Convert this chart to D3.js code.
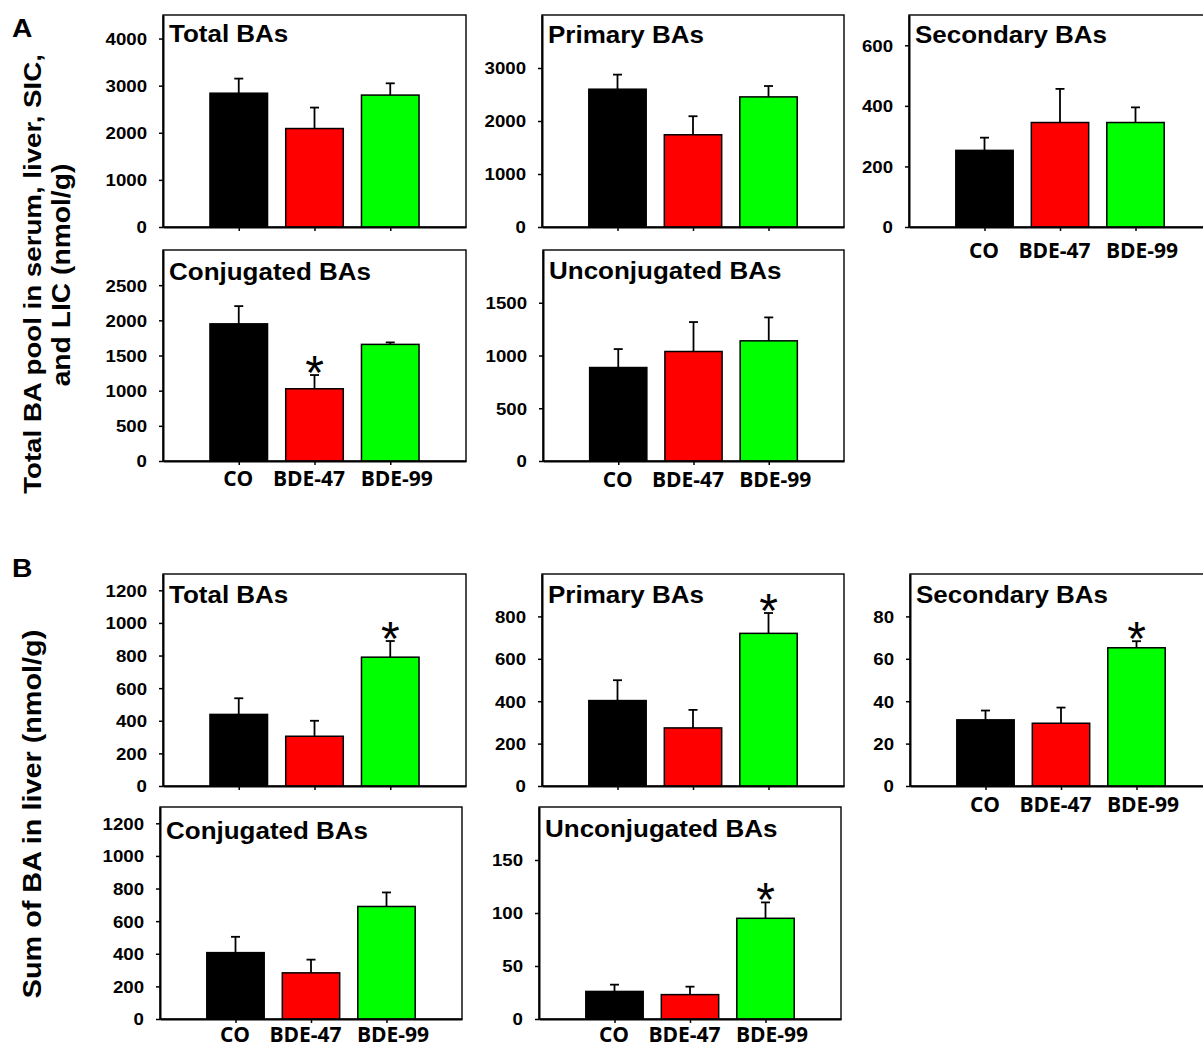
<!DOCTYPE html>
<html>
<head>
<meta charset="utf-8">
<script src="https://cdn.jsdelivr.net/npm/d3@7"></script>
<style>
  body { margin: 0; background: #fff; }
  svg { display: block; }
</style>
</head>
<body>
<svg id="chart" width="1203" height="1047"></svg>
<script>
// groups on the x axis
const groups = ["CO", "BDE-47", "BDE-99"];
const barColors = ["#000000", "#ff0000", "#00ff00"];

// A: total BA pool in serum, liver, SIC and LIC (nmol/g)
const aTotalMean = [2840, 2090, 2800];
const aTotalSem = [310, 445, 250];
const aPrimaryMean = [2600, 1740, 2455];
const aPrimarySem = [275, 350, 205];
const aSecondaryMean = [253, 345, 345];
const aSecondarySem = [42, 111, 50];
const aConjMean = [1950, 1027, 1658];
const aConjSem = [252, 195, 28];
const aUnconjMean = [886, 1038, 1139];
const aUnconjSem = [175, 279, 222];

// B: sum of BA in liver (nmol/g)
const bTotalMean = [439, 305, 790];
const bTotalSem = [99, 95, 99];
const bPrimaryMean = [403, 274, 720];
const bPrimarySem = [96, 85, 96];
const bSecondaryMean = [31.2, 29.6, 65.2];
const bSecondarySem = [4.4, 7.4, 3.1];
const bConjMean = [407, 283, 690];
const bConjSem = [97, 81, 86];
const bUnconjMean = [26, 23, 95];
const bUnconjSem = [6.4, 7.5, 15];

// y tick labels
const ticksA1 = [0, 1000, 2000, 3000, 4000];
const ticksA2 = [0, 1000, 2000, 3000];
const ticksA3 = [0, 200, 400, 600];
const ticksA4 = [0, 500, 1000, 1500, 2000, 2500];
const ticksA5 = [0, 500, 1000, 1500];
const ticksB1 = [0, 200, 400, 600, 800, 1000, 1200];
const ticksB2 = [0, 200, 400, 600, 800];
const ticksB3 = [0, 20, 40, 60, 80];
const ticksB4 = [0, 200, 400, 600, 800, 1000, 1200];
const ticksB5 = [0, 50, 100, 150];

const panels = [
  { title: "Total BAs", mean: aTotalMean, sem: aTotalSem, ticks: ticksA1, max: 4500, star: null,
    box: [163, 466, 15, 227], titleDy: 27, labels: false },
  { title: "Primary BAs", mean: aPrimaryMean, sem: aPrimarySem, ticks: ticksA2, max: 4000, star: null,
    box: [542, 844, 15, 227], titleDy: 28, labels: false },
  { title: "Secondary BAs", mean: aSecondaryMean, sem: aSecondarySem, ticks: ticksA3, max: 700, star: null,
    box: [909, 1211, 15, 227], titleDy: 28, labels: true, labelDy: 31 },
  { title: "Conjugated BAs", mean: aConjMean, sem: aConjSem, ticks: ticksA4, max: 3000, star: 1,
    box: [163, 466, 250, 461], titleDy: 30, labels: true, labelDy: 25 },
  { title: "Unconjugated BAs", mean: aUnconjMean, sem: aUnconjSem, ticks: ticksA5, max: 2000, star: null,
    box: [543, 844, 250, 461], titleDy: 29, labels: true, labelDy: 26 },
  { title: "Total BAs", mean: bTotalMean, sem: bTotalSem, ticks: ticksB1, max: 1300, star: 2,
    box: [163, 466, 574, 786], titleDy: 29, labels: false },
  { title: "Primary BAs", mean: bPrimaryMean, sem: bPrimarySem, ticks: ticksB2, max: 1000, star: 2,
    box: [542, 844, 574, 786], titleDy: 29, labels: false },
  { title: "Secondary BAs", mean: bSecondaryMean, sem: bSecondarySem, ticks: ticksB3, max: 100, star: 2,
    box: [910, 1212, 574, 786], titleDy: 29, labels: true, labelDy: 26 },
  { title: "Conjugated BAs", mean: bConjMean, sem: bConjSem, ticks: ticksB4, max: 1300, star: null,
    box: [160, 462, 807, 1019], titleDy: 32, labels: true, labelDy: 23 },
  { title: "Unconjugated BAs", mean: bUnconjMean, sem: bUnconjSem, ticks: ticksB5, max: 200, star: 2,
    box: [539, 841, 807, 1019], titleDy: 30, labels: true, labelDy: 23 },
];

// the group labels were typed as one line, so they sit a little off the ticks
const labelShift = [-1, -6, 6];

const svg = d3.select("#chart");
const arial = "'Liberation Sans', Arial, sans-serif";
const stretch = 1.13; // the original type is a bit wider than Arial

function wideText(g, x, y, str, size, anchor, rotate) {
  return g.append("text")
    .attr("transform", `translate(${x},${y})${rotate ? " rotate(-90)" : ""} scale(${stretch},1)`)
    .attr("text-anchor", anchor)
    .attr("font-family", arial)
    .attr("font-weight", "bold")
    .attr("font-size", size)
    .attr("fill", "#000")
    .text(str);
}

function drawPanel(p) {
  const [x0, x1, y0, y1] = p.box;
  const g = svg.append("g");

  const x = d3.scalePoint().domain(groups).range([x0, x1]).padding(1);
  const y = d3.scaleLinear().domain([0, p.max]).range([y1, y0]);
  const barW = x.step() * 0.76;

  // frame
  g.append("rect")
    .attr("x", x0).attr("y", y0)
    .attr("width", x1 - x0).attr("height", y1 - y0)
    .attr("fill", "none").attr("stroke", "#000").attr("stroke-width", 1.4);

  const rows = groups.map((k, i) => ({ k, i, m: p.mean[i], s: p.sem[i] }));

  // error bars first, bars on top
  g.selectAll("line.err").data(rows).join("line")
    .attr("x1", (d) => x(d.k)).attr("x2", (d) => x(d.k))
    .attr("y1", (d) => y(d.m)).attr("y2", (d) => y(d.m + d.s))
    .attr("stroke", "#000").attr("stroke-width", 1.8);
  g.selectAll("line.cap").data(rows).join("line")
    .attr("x1", (d) => x(d.k) - 4.5).attr("x2", (d) => x(d.k) + 4.5)
    .attr("y1", (d) => y(d.m + d.s)).attr("y2", (d) => y(d.m + d.s))
    .attr("stroke", "#000").attr("stroke-width", 1.8);

  g.selectAll("rect.bar").data(rows).join("rect")
    .attr("x", (d) => x(d.k) - barW / 2)
    .attr("y", (d) => y(d.m))
    .attr("width", barW)
    .attr("height", (d) => y(0) - y(d.m))
    .attr("fill", (d) => barColors[d.i])
    .attr("stroke", "#000").attr("stroke-width", 1.5);

  // asterisk over the significant group
  if (p.star !== null) {
    const d = rows[p.star];
    g.append("text")
      .attr("x", x(d.k)).attr("y", y(d.m + d.s) + 14)
      .attr("text-anchor", "middle")
      .attr("font-family", arial)
      .attr("font-size", 48)
      .text("*");
  }

  // y axis
  const ya = g.append("g")
    .attr("transform", `translate(${x0},0)`)
    .call(d3.axisLeft(y).tickValues(p.ticks).tickFormat(d3.format("d"))
      .tickSize(4).tickSizeOuter(0));
  ya.select(".domain").attr("stroke-width", 2);
  ya.selectAll(".tick line").attr("stroke-width", 1.5);
  ya.selectAll(".tick text")
    .attr("x", null).attr("dy", "0.36em")
    .attr("transform", `translate(-16,0) scale(${stretch},1)`)
    .attr("font-family", arial).attr("font-weight", "bold")
    .attr("font-size", 16.5).attr("fill", "#000");

  // x axis
  const xa = g.append("g")
    .attr("transform", `translate(0,${y1})`)
    .call(d3.axisBottom(x).tickSize(4).tickSizeOuter(0));
  xa.select(".domain").attr("stroke-width", 2);
  xa.selectAll(".tick line").attr("stroke-width", 1.5);
  if (p.labels) {
    xa.selectAll(".tick text")
      .attr("y", p.labelDy).attr("dy", null)
      .attr("x", (d, i) => labelShift[i])
      .attr("font-family", "'Open Sans', sans-serif").attr("font-weight", "bold")
      .attr("font-size", 21).attr("fill", "#000");
  } else {
    xa.selectAll(".tick text").remove();
  }

  wideText(g, x0 + 6, y0 + p.titleDy, p.title, 23, "start");
}

panels.forEach(drawPanel);

// panel letters
wideText(svg, 12, 37, "A", 25, "start");
wideText(svg, 12, 577, "B", 25, "start");

// y axis titles
wideText(svg, 41, 274, "Total BA pool in serum, liver, SIC,", 24.5, "middle", true);
wideText(svg, 70, 275, "and LIC (nmol/g)", 25, "middle", true);
wideText(svg, 41, 814, "Sum of BA in liver (nmol/g)", 25.5, "middle", true);
</script>
</body>
</html>
